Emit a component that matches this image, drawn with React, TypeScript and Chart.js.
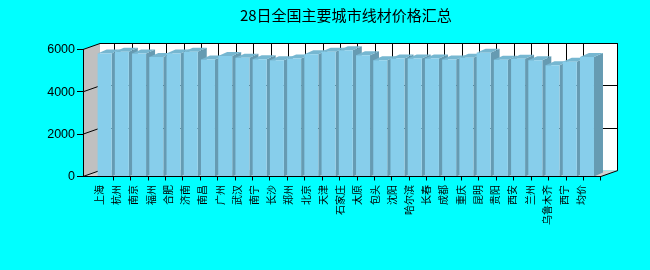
import React, { useEffect, useRef } from 'react';
import { Chart, registerables } from 'chart.js';

Chart.register(...registerables);

const titleText = '28日全国主要城市线材价格汇总';
const categories = ['上海', '杭州', '南京', '福州', '合肥', '济南', '南昌', '广州', '武汉', '南宁', '长沙', '郑州', '北京', '天津', '石家庄', '太原', '包头', '沈阳', '哈尔滨', '长春', '成都', '重庆', '昆明', '贵阳', '西安', '兰州', '乌鲁木齐', '西宁', '均价'];
const prices = [5810, 5890, 5810, 5650, 5810, 5890, 5530, 5690, 5610, 5545, 5495, 5575, 5780, 5890, 5970, 5730, 5495, 5575, 5575, 5575, 5530, 5610, 5850, 5510, 5560, 5495, 5260, 5420, 5650];
const yTickValues = [0, 2000, 4000, 6000];

const Y_MIN = 0;
const Y_MAX = 6000;

// 3D look
const FRONT_LEFT = 83;
const WALL_DX = 17;
const WALL_DY = 6;
const BAR_DX = 9;
const BAR_DY = 4;
const TICK_DRIFT = 0.19;
const GRID_SHIFT = 1.5;
const FRONT_COLOR = '#87CEEB';
const TOP_COLOR = 'rgb(118,183,209)';
const SIDE_COLOR = 'rgb(102,155,178)';
const SIDE_WALL = '#c0c0c0';
const FLOOR = '#d2d2d2';

const crisp = (v: number) => Math.floor(v) + 0.5;

function poly(ctx: CanvasRenderingContext2D, pts: number[][], fill: string) {
  ctx.beginPath();
  ctx.moveTo(pts[0][0], pts[0][1]);
  for (let i = 1; i < pts.length; i++) ctx.lineTo(pts[i][0], pts[i][1]);
  ctx.closePath();
  ctx.fillStyle = fill;
  ctx.fill();
}

function line(ctx: CanvasRenderingContext2D, x1: number, y1: number, x2: number, y2: number) {
  ctx.beginPath();
  ctx.moveTo(x1, y1);
  ctx.lineTo(x2, y2);
  ctx.stroke();
}

function geometry(chart: any) {
  const xs = chart.scales.x;
  const ys = chart.scales.y;
  const area = chart.chartArea;
  const n = categories.length;
  const pitch = (area.right - area.left) / n;
  const tickX = (k: number) => xs.getPixelForValue(k) + pitch / 2 + k * TICK_DRIFT;
  const y0 = ys.getPixelForValue(Y_MIN);
  const yTop = ys.getPixelForValue(Y_MAX);
  const frontRight = tickX(n - 1);
  const bx0 = FRONT_LEFT + WALL_DX;
  const bx1 = frontRight + WALL_DX;
  return { xs, ys, n, tickX, y0, yTop, frontRight, bx0, bx1 };
}

const threeDPlugin = {
  id: 'threeD',
  beforeDatasetsDraw(chart: any) {
    const ctx: CanvasRenderingContext2D = chart.ctx;
    const g = geometry(chart);
    ctx.save();
    // side wall
    poly(ctx, [[FRONT_LEFT, g.yTop], [g.bx0, g.yTop - WALL_DY], [g.bx0, g.y0 - WALL_DY], [FRONT_LEFT, g.y0]], SIDE_WALL);
    // back wall
    ctx.fillStyle = '#ffffff';
    ctx.fillRect(g.bx0, g.yTop - WALL_DY, g.bx1 - g.bx0, g.y0 - g.yTop);
    // floor
    poly(ctx, [[FRONT_LEFT, g.y0], [g.frontRight, g.y0], [g.bx1, g.y0 - WALL_DY], [g.bx0, g.y0 - WALL_DY]], FLOOR);

    ctx.strokeStyle = '#000';
    ctx.lineWidth = 1;
    // horizontal gridlines on back wall
    yTickValues.forEach((v) => {
      if (v <= Y_MIN || v >= Y_MAX) return;
      const yy = crisp(g.ys.getPixelForValue(v) - WALL_DY);
      line(ctx, g.bx0, yy, g.bx1, yy);
    });
    // vertical gridlines on back wall
    for (let k = 0; k < g.n - 1; k++) {
      const xx = crisp(g.tickX(k) + GRID_SHIFT * (1 - k / (g.n - 1)));
      line(ctx, xx, g.yTop - WALL_DY, xx, g.y0 - WALL_DY);
    }
    // slanted lines on side wall
    yTickValues.forEach((v) => {
      const yy = g.ys.getPixelForValue(v);
      line(ctx, FRONT_LEFT, yy, g.bx0, yy - WALL_DY);
    });
    // back wall border top and right
    const topY = crisp(g.yTop - WALL_DY);
    line(ctx, g.bx0, topY, g.bx1, topY);
    const rx = crisp(g.bx1);
    line(ctx, rx, g.yTop - WALL_DY, rx, g.y0 - WALL_DY);

    // bar side and top faces (front faces drawn by Chart.js afterwards)
    const meta = chart.getDatasetMeta(0);
    meta.data.forEach((el: any) => {
      const p = el.getProps(['x', 'y', 'width', 'base'], true);
      const x0 = p.x - p.width / 2;
      const x1 = p.x + p.width / 2;
      poly(ctx, [[x1, p.y], [x1 + BAR_DX, p.y - BAR_DY], [x1 + BAR_DX, p.base - BAR_DY], [x1, p.base]], SIDE_COLOR);
      poly(ctx, [[x0, p.y], [x1, p.y], [x1 + BAR_DX, p.y - BAR_DY], [x0 + BAR_DX, p.y - BAR_DY]], TOP_COLOR);
    });
    ctx.restore();
  },
  afterDatasetsDraw(chart: any) {
    const ctx: CanvasRenderingContext2D = chart.ctx;
    const g = geometry(chart);
    ctx.save();
    ctx.strokeStyle = '#000';
    ctx.lineWidth = 1;
    const ax = crisp(FRONT_LEFT);
    const ay = crisp(g.y0);
    // value axis
    line(ctx, ax, g.yTop, ax, ay);
    ctx.fillStyle = '#000';
    ctx.font = '12.5px "Liberation Sans", Arial, sans-serif';
    ctx.textAlign = 'right';
    ctx.textBaseline = 'middle';
    yTickValues.forEach((v) => {
      const yy = g.ys.getPixelForValue(v);
      const cy = crisp(yy);
      line(ctx, FRONT_LEFT - 6, cy, ax, cy);
      ctx.fillText(String(v), FRONT_LEFT - 8, yy + 0.5);
    });
    // category axis
    line(ctx, FRONT_LEFT, ay, g.frontRight, ay);
    line(ctx, g.frontRight, g.y0, g.bx1, g.y0 - WALL_DY);
    for (let k = 0; k < g.n; k++) {
      const xx = crisp(g.tickX(k));
      line(ctx, xx, ay, xx, ay + 4);
    }
    // category labels, rotated
    ctx.font = '10px "Noto Sans CJK SC", sans-serif';
    ctx.textAlign = 'right';
    ctx.textBaseline = 'middle';
    const meta = chart.getDatasetMeta(0);
    meta.data.forEach((el: any, i: number) => {
      const p = el.getProps(['x'], true);
      ctx.save();
      ctx.translate(p.x - 5.5, g.y0 + 8.5);
      ctx.rotate(-Math.PI / 2);
      ctx.fillText(categories[i], 0, 0);
      ctx.restore();
    });
    ctx.restore();
  },
};

export default function App() {
  const ref = useRef<HTMLCanvasElement>(null);
  useEffect(() => {
    const canvas = ref.current;
    if (!canvas) return;
    const chart = new Chart(canvas, {
      type: 'bar',
      data: {
        labels: categories,
        datasets: [
          {
            data: prices,
            backgroundColor: FRONT_COLOR,
            borderWidth: 0,
            barPercentage: 0.8125,
            categoryPercentage: 1,
          },
        ],
      },
      options: {
        responsive: false,
        animation: false,
        events: [],
        layout: { padding: { left: 96, right: 54.4, top: 0, bottom: 93.5 } },
        scales: {
          x: { display: false },
          y: { display: false, min: Y_MIN, max: Y_MAX },
        },
        plugins: {
          legend: { display: false },
          tooltip: { enabled: false },
          title: {
            display: true,
            text: titleText,
            color: '#000',
            font: { size: 15, family: '"Noto Sans CJK SC", sans-serif', weight: 'normal' as any, lineHeight: 1.2 },
            padding: { top: 6, bottom: 25.5 },
          },
        },
      },
      plugins: [threeDPlugin],
    });
    return () => chart.destroy();
  }, []);
  return (
    <div style={{ position: 'fixed', left: 0, top: 0, width: 650, height: 270, background: '#00ffff' }}>
      <canvas ref={ref} width={650} height={270} style={{ display: 'block' }} />
    </div>
  );
}
